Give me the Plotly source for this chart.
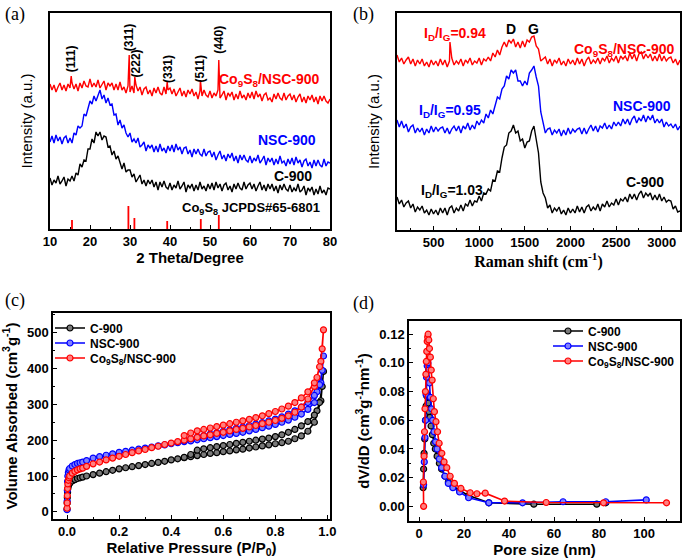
import plotly.graph_objects as go

# ---------------- (a) XRD (sampled every 0.5 degree, 10-80) ----------------
xrd_theta = [10 + 0.5 * i for i in range(141)]
xrd_c900 = [51, 44, 49, 46, 53, 45, 48, 52, 43, 50, 48, 53, 48, 56, 54, 65, 62, 69, 68, 80,
            80, 90, 86, 97, 93, 97, 89, 93, 92, 82, 83, 74, 78, 70, 73, 65, 60, 66, 57, 59,
            59, 52, 55, 47, 51, 54, 45, 49, 43, 49, 45, 49, 42, 47, 39, 47, 42, 48, 42, 40,
            46, 39, 44, 41, 48, 40, 43, 47, 37, 44, 41, 45, 38, 44, 39, 47, 40, 43, 38, 45,
            40, 46, 39, 47, 41, 45, 38, 44, 46, 39, 43, 37, 45, 40, 46, 41, 39, 47, 40, 44,
            46, 40, 45, 38, 43, 47, 39, 44, 38, 45, 40, 45, 38, 43, 36, 44, 39, 45, 40, 38,
            44, 37, 41, 38, 45, 37, 39, 43, 34, 41, 38, 42, 34, 40, 35, 43, 36, 39, 34, 41, 40]
xrd_nsc900 = [87, 93, 86, 94, 88, 92, 85, 91, 93, 86, 91, 86, 96, 94, 103, 101, 103, 115, 113, 121,
              128, 125, 133, 128, 134, 139, 130, 134, 126, 131, 124, 125, 114, 115, 104, 109, 101, 104, 96, 92,
              96, 87, 90, 86, 91, 82, 84, 87, 78, 84, 81, 84, 77, 83, 77, 85, 78, 81, 76, 83,
              78, 84, 77, 85, 79, 82, 75, 81, 82, 75, 79, 72, 80, 75, 80, 75, 73, 80, 73, 77,
              78, 72, 77, 69, 74, 78, 70, 74, 68, 75, 71, 76, 68, 73, 66, 74, 69, 74, 69, 67,
              73, 66, 71, 68, 74, 66, 69, 73, 64, 71, 67, 71, 64, 70, 65, 73, 66, 68, 63, 70,
              65, 71, 64, 72, 66, 69, 62, 68, 70, 63, 67, 61, 69, 63, 69, 64, 62, 70, 63, 67, 66]
xrd_co_base = [145, 139, 144, 137, 142, 146, 139, 144, 138, 145, 141, 146, 140, 145, 138, 146, 141, 148, 143, 142,
               150, 142, 146, 142, 149, 141, 144, 148, 139, 146, 143, 146, 139, 145, 139, 147, 139, 142, 136, 143,
               137, 143, 136, 144, 138, 142, 134, 140, 142, 135, 139, 133, 141, 136, 142, 136, 134, 142, 135, 139,
               141, 135, 140, 133, 138, 141, 133, 138, 132, 139, 135, 140, 133, 137, 130, 138, 133, 139, 134, 132,
               138, 131, 136, 133, 139, 131, 134, 138, 129, 136, 133, 137, 129, 135, 130, 138, 131, 134, 129, 136,
               131, 137, 130, 138, 132, 135, 128, 134, 136, 129, 131, 127, 135, 130, 136, 131, 129, 136, 129, 133,
               135, 129, 134, 127, 132, 135, 127, 132, 126, 133, 129, 134, 127, 132, 125, 133, 128, 133, 128, 126, 130]
xrd_co_peak_theta = [15.3, 29.8, 31.2, 39.3, 47.6, 52.2]
xrd_co_peak_int = [153, 174, 152, 147, 149, 169]
jcpds_theta = [15.5, 29.6, 31.1, 39.3, 47.7, 52.2]
jcpds_int = [9, 23, 11, 8, 10, 14]
hkl_labels = ["(111)", "(311)", "(222)", "(331)", "(511)", "(440)"]
hkl_theta = [15.3, 29.8, 31.6, 39.5, 47.6, 52.2]
hkl_y = [170, 191, 166, 160, 160, 189]

# ---------------- (b) Raman (sampled every 25 cm-1, 100-3200) ----------------
raman_shift = [100 + 25 * i for i in range(125)]
raman_c = [33, 26, 30, 23, 27, 29, 22, 26, 18, 23, 20, 24, 17, 20, 15, 21, 16, 20, 15, 22,
           17, 22, 15, 22, 24, 17, 22, 19, 25, 19, 26, 24, 30, 24, 29, 28, 34, 29, 37, 36,
           41, 39, 50, 49, 59, 58, 72, 83, 85, 97, 99, 105, 97, 99, 89, 91, 82, 88, 89, 99,
           104, 92, 77, 48, 37, 32, 22, 25, 17, 22, 19, 23, 16, 20, 15, 22, 17, 21, 17, 24,
           18, 23, 17, 23, 25, 19, 23, 20, 26, 19, 26, 23, 29, 23, 27, 25, 31, 25, 31, 29,
           33, 28, 36, 31, 36, 30, 36, 39, 32, 37, 34, 37, 30, 35, 30, 36, 29, 33, 28, 30,
           29, 21, 24, 18, 19]
raman_nsc = [110, 103, 109, 102, 106, 98, 103, 105, 97, 102, 98, 102, 95, 101, 97, 104, 98, 103, 99, 102,
             103, 97, 102, 96, 101, 104, 99, 104, 97, 104, 101, 107, 100, 105, 101, 109, 105, 110, 107, 116,
             112, 120, 116, 126, 133, 131, 141, 144, 154, 151, 160, 157, 160, 149, 149, 144, 149, 145, 157, 160,
             164, 153, 144, 118, 109, 97, 101, 102, 95, 100, 97, 101, 94, 100, 95, 102, 96, 101, 98, 101,
             102, 96, 102, 96, 101, 105, 99, 104, 98, 104, 102, 107, 101, 105, 101, 108, 104, 108, 104, 111,
             106, 111, 105, 111, 114, 107, 112, 109, 115, 108, 114, 110, 115, 107, 111, 107, 111, 103, 108, 104,
             106, 102, 106, 100, 104]
raman_co_base = [175, 168, 172, 166, 170, 173, 166, 171, 164, 170, 166, 171, 164, 168, 163, 170, 165, 169, 164, 171,
                 165, 170, 163, 169, 172, 165, 169, 166, 171, 164, 170, 167, 172, 165, 169, 167, 172, 165, 171, 169,
                 173, 169, 177, 173, 180, 175, 183, 188, 183, 190, 187, 191, 183, 188, 182, 189, 183, 190, 188, 193,
                 194, 184, 181, 169, 171, 173, 166, 171, 164, 170, 167, 172, 165, 169, 164, 171, 166, 170, 165, 172,
                 166, 171, 164, 170, 173, 166, 170, 167, 172, 166, 172, 169, 174, 167, 172, 169, 174, 167, 174, 171,
                 174, 169, 177, 171, 176, 169, 176, 178, 171, 176, 172, 176, 169, 174, 169, 176, 169, 174, 169, 172,
                 173, 167, 171, 165, 170]
raman_co_spike_x = [680]
raman_co_spike_i = [188]

# ---------------- (c) N2 isotherms ----------------
p_rel = [0.0, 0.0005, 0.001, 0.002, 0.003, 0.005, 0.0075, 0.01, 0.02, 0.03, 0.04, 0.05, 0.06, 0.075,
         0.1, 0.125, 0.15, 0.175, 0.2, 0.225, 0.25, 0.275, 0.3, 0.325, 0.35, 0.375, 0.4, 0.425, 0.45,
         0.475, 0.5, 0.525, 0.55, 0.575, 0.6, 0.625, 0.65, 0.675, 0.7, 0.725, 0.75, 0.775, 0.8, 0.825,
         0.85, 0.875, 0.9, 0.925, 0.95, 0.975, 0.985,
         0.98, 0.97, 0.96, 0.95, 0.925, 0.9, 0.875, 0.85, 0.825, 0.8, 0.775, 0.75, 0.725, 0.7, 0.675,
         0.65, 0.625, 0.6, 0.575, 0.55, 0.525, 0.5, 0.475, 0.45]
vol_c900 = [8, 25, 40, 55, 65, 72, 77, 80, 86, 90, 93, 95, 97, 100,
            104, 108, 112, 116, 120, 123, 126, 129, 132, 135, 138, 141, 145, 148, 151,
            154, 157, 160, 163, 165, 168, 170, 173, 175, 178, 181, 184, 187, 190, 193,
            197, 204, 212, 225, 250, 310, 392,
            350, 305, 282, 270, 252, 240, 230, 222, 215, 210, 206, 203, 200, 197, 194,
            191, 188, 185, 182, 179, 176, 172, 160, 152]
vol_nsc900 = [6, 30, 60, 85, 100, 110, 117, 121, 128, 132, 135, 137, 139, 143,
              150, 154, 158, 162, 166, 169, 172, 175, 178, 181, 184, 187, 190, 193, 196,
              198, 201, 204, 207, 210, 213, 216, 219, 222, 226, 230, 235, 239, 244, 250,
              256, 264, 273, 286, 305, 360, 435,
              395, 355, 335, 325, 305, 292, 282, 273, 265, 259, 254, 249, 245, 241, 237,
              233, 229, 225, 221, 217, 213, 209, 204, 198]
vol_co = [10, 25, 45, 65, 78, 88, 95, 100, 108, 113, 117, 120, 122, 127,
          134, 139, 145, 150, 155, 160, 165, 170, 174, 179, 183, 188, 192, 196, 200,
          204, 208, 212, 215, 219, 222, 226, 230, 233, 237, 241, 246, 250, 255, 261,
          268, 278, 292, 315, 350, 420, 508,
          455, 405, 375, 360, 335, 318, 305, 295, 287, 280, 274, 268, 263, 258, 254,
          250, 246, 242, 238, 234, 230, 226, 220, 213]

# ---------------- (d) pore size distribution ----------------
pore_c900 = [1.8, 2.0, 2.2, 2.5, 2.8, 3.1, 3.4, 3.7, 4.0, 4.4, 4.8, 5.3, 5.9, 6.5, 7.2, 8.0, 9.0, 10.0,
             11.5, 13.0, 15.0, 18.0, 22.0, 31.0, 51.0, 79.0, 83.0]
dvd_c900 = [0.013, 0.026, 0.037, 0.047, 0.060, 0.070, 0.077, 0.078, 0.072, 0.066, 0.062, 0.056, 0.050,
            0.044, 0.040, 0.035, 0.030, 0.026, 0.021, 0.017, 0.014, 0.011, 0.0075, 0.0025, 0.0015,
            0.0015, 0.0025]
pore_nsc900 = [2.0, 2.3, 2.6, 2.9, 3.1, 3.3, 3.6, 3.9, 4.2, 4.6, 5.0, 5.5, 6.0, 6.6, 7.3, 8.0, 9.0, 10.0,
               11.5, 13.0, 15.0, 18.0, 22.0, 31.0, 46.0, 64.0, 83.0, 101.0]
dvd_nsc900 = [0.015, 0.031, 0.048, 0.060, 0.078, 0.090, 0.098, 0.100, 0.095, 0.086, 0.076, 0.068, 0.060,
              0.052, 0.045, 0.040, 0.033, 0.027, 0.021, 0.016, 0.013, 0.010, 0.006, 0.0025, 0.0025,
              0.0032, 0.0032, 0.0045]
pore_co = [2.0, 1.9, 2.2, 2.4, 2.6, 2.8, 3.0, 3.2, 3.4, 3.6, 3.8, 4.0, 4.3, 4.6, 5.0, 5.4, 5.8, 6.3,
           6.8, 7.5, 8.2, 8.9, 10.1, 11.1, 12.3, 13.8, 15.7, 18.6, 22.7, 25.7, 29.4, 38.0, 56.5, 82.0,
           110.0]
dvd_co = [0.0, 0.017, 0.035, 0.052, 0.068, 0.080, 0.092, 0.101, 0.108, 0.115, 0.118, 0.120, 0.116,
          0.110, 0.104, 0.095, 0.088, 0.075, 0.066, 0.059, 0.052, 0.044, 0.037, 0.031, 0.027, 0.021,
          0.016, 0.0125, 0.0095, 0.0088, 0.0092, 0.0037, 0.0027, 0.0025, 0.0025]

series_names = ["C-900", "NSC-900", "Co<sub>9</sub>S<sub>8</sub>/NSC-900"]

RED, BLUE, BLACK = "#ff0000", "#0000ff", "#000000"
SANS = "Liberation Sans"
SERIF = "Liberation Serif"

# merge sharp peaks into the sampled red curves
co_xy = sorted(zip(xrd_theta + xrd_co_peak_theta, xrd_co_base + xrd_co_peak_int))
xrd_co_theta = [p[0] for p in co_xy]
xrd_co = [p[1] for p in co_xy]
rco_xy = sorted(zip(raman_shift + raman_co_spike_x, raman_co_base + raman_co_spike_i))
raman_co_x = [p[0] for p in rco_xy]
raman_co = [p[1] for p in rco_xy]

fig = go.Figure()

LW = 1.4
for xs, ys, col in [(xrd_theta, xrd_c900, BLACK), (xrd_theta, xrd_nsc900, BLUE), (xrd_co_theta, xrd_co, RED)]:
    fig.add_trace(go.Scatter(x=xs, y=ys, mode="lines", line=dict(color=col, width=LW),
                             xaxis="x", yaxis="y", showlegend=False))
ref_x, ref_y = [], []
for t, h in zip(jcpds_theta, jcpds_int):
    ref_x += [t, t, None]
    ref_y += [0, h, None]
fig.add_trace(go.Scatter(x=ref_x, y=ref_y, mode="lines", line=dict(color=RED, width=1.8),
                         xaxis="x", yaxis="y", showlegend=False))

for xs, ys, col in [(raman_shift, raman_c, BLACK), (raman_shift, raman_nsc, BLUE), (raman_co_x, raman_co, RED)]:
    fig.add_trace(go.Scatter(x=xs, y=ys, mode="lines", line=dict(color=col, width=LW),
                             xaxis="x2", yaxis="y2", showlegend=False))

def mk(fill, edge):
    return dict(symbol="circle", size=6, color=fill, line=dict(color=edge, width=1.2))

colors = [(BLACK, "#7a7a7a"), (BLUE, "#8080ff"), (RED, "#ff8080")]
for i, (ys, (col, fill)) in enumerate(zip([vol_c900, vol_nsc900, vol_co], colors)):
    fig.add_trace(go.Scatter(x=p_rel, y=ys, mode="lines+markers", name=series_names[i],
                             line=dict(color=col, width=1.6), marker=mk(fill, col),
                             xaxis="x3", yaxis="y3", legend="legend" if i == 0 else f"legend{i + 1}"))
for i, (xs, ys, (col, fill)) in enumerate(zip([pore_c900, pore_nsc900, pore_co],
                                                [dvd_c900, dvd_nsc900, dvd_co], colors)):
    fig.add_trace(go.Scatter(x=xs, y=ys, mode="lines+markers", name=series_names[i],
                             line=dict(color=col, width=1.6), marker=mk(fill, col),
                             xaxis="x4", yaxis="y4", legend=f"legend{i + 4}"))

W, H = 685, 559
def dx(a, b):
    return [a / W, b / W]
def dy(top, bot):
    return [1 - bot / H, 1 - top / H]

tickf = dict(family=SANS, size=13, color="black", weight="bold")
titf = dict(family=SANS, size=15, color="black", weight="bold")
base = dict(showline=True, linecolor="black", linewidth=1.5, mirror=True, showgrid=False,
            zeroline=False, ticks="inside", ticklen=4, tickwidth=1.3, tickcolor="black",
            tickfont=tickf, automargin=False)

fig.update_layout(
    width=W, height=H, margin=dict(l=0, r=0, t=0, b=0),
    paper_bgcolor="white", plot_bgcolor="white",
    xaxis=dict(base, domain=dx(50, 330), range=[10, 80], dtick=10, tick0=10,
               minor=dict(ticks="inside", ticklen=2, dtick=5, tickcolor="black"),
               title=dict(text="2 Theta/Degree", font=titf, standoff=4), anchor="y"),
    yaxis=dict(base, domain=dy(13, 229), range=[0, 216], ticks="", showticklabels=False,
               title=dict(text="Intensity (a.u.)", font=dict(family=SANS, size=15, color="black"), standoff=12),
               anchor="x"),
    xaxis2=dict(base, domain=dx(397, 680), range=[100, 3200], tickvals=[500, 1000, 1500, 2000, 2500, 3000],
                minor=dict(ticks="inside", ticklen=2, tickvals=[250, 750, 1250, 1750, 2250, 2750], tickcolor="black"),
                title=dict(text="Raman shift (cm<sup>-1</sup>)", font=dict(family=SERIF, size=16, color="black", weight="bold"), standoff=3),
                anchor="y2"),
    yaxis2=dict(base, domain=dy(13, 230), range=[0, 217], ticks="", showticklabels=False,
                title=dict(text="Intensity (a.u.)", font=dict(family=SANS, size=15, color="black"), standoff=12),
                anchor="x2"),
    xaxis3=dict(base, domain=dx(53, 330), range=[-0.054, 1.01], dtick=0.2, tick0=0, tickformat=".1f",
                minor=dict(ticks="inside", ticklen=2, dtick=0.1, tickcolor="black"),
                title=dict(text="Relative Pressure (P/P<sub>0</sub>)", font=titf, standoff=3), anchor="y3"),
    yaxis3=dict(base, domain=dy(313, 519), range=[-20, 555], dtick=100, tick0=0,
                minor=dict(ticks="inside", ticklen=2, dtick=50, tickcolor="black"),
                title=dict(text="Volume Absorbed (cm<sup>3</sup>g<sup>-1</sup>)", font=titf, standoff=6),
                anchor="x3"),
    xaxis4=dict(base, domain=dx(409, 680), range=[-4.5, 116], dtick=20, tick0=0,
                minor=dict(ticks="inside", ticklen=2, dtick=10, tickcolor="black"),
                title=dict(text="Pore size (nm)", font=titf, standoff=3), anchor="y4"),
    yaxis4=dict(base, domain=dy(321, 521), range=[-0.0102, 0.1292], dtick=0.02, tick0=0, tickformat=".2f",
                minor=dict(ticks="inside", ticklen=2, dtick=0.01, tickcolor="black"),
                title=dict(text="dV/dD (cm<sup>3</sup>g<sup>-1</sup>nm<sup>-1</sup>)", font=titf, standoff=6),
                anchor="x4"),
)

legfont = dict(family=SANS, size=12, color="black", weight="bold")
leg_pos = [(50, 328), (50, 343), (50, 358), (548, 331), (548, 346), (548, 361)]
for k, (lx, ly) in enumerate(leg_pos):
    key = "legend" if k == 0 else f"legend{k + 1}"
    fig.update_layout({key: dict(x=lx / W, y=1 - ly / H, xanchor="left", yanchor="middle",
                                 bgcolor="rgba(0,0,0,0)", borderwidth=0, font=legfont,
                                 itemwidth=30, tracegroupgap=0)})

ann = []
for lab, px, py in [("(a)", 3, 2), ("(b)", 351, 2), ("(c)", 3, 288), ("(d)", 351, 291)]:
    ann.append(dict(text=lab, xref="paper", yref="paper", x=px / W, y=1 - py / H, xanchor="left",
                    yanchor="top", showarrow=False, font=dict(family=SERIF, size=18, color="black")))
for lab, t, yy in zip(hkl_labels, hkl_theta, hkl_y):
    ann.append(dict(text=lab, x=t, y=yy, xref="x", yref="y", textangle=-90, showarrow=False,
                    font=dict(family=SANS, size=12, color="black", weight="bold")))

def afont(c, s=14):
    return dict(family=SANS, size=s, color=c, weight="bold")

ann += [
    dict(text="Co<sub>9</sub>S<sub>8</sub>/NSC-900", x=78, y=149, xref="x", yref="y", xanchor="right",
         showarrow=False, font=afont(RED)),
    dict(text="NSC-900", x=77, y=89, xref="x", yref="y", xanchor="right", showarrow=False, font=afont(BLUE)),
    dict(text="C-900", x=76, y=53, xref="x", yref="y", xanchor="right", showarrow=False, font=afont(BLACK)),
    dict(text="Co<sub>9</sub>S<sub>8</sub> JCPDS#65-6801", x=78, y=21, xref="x", yref="y", xanchor="right",
         showarrow=False, font=afont(BLACK, 13)),
    dict(text="I<sub>D</sub>/I<sub>G</sub>=0.94", x=735, y=196, xref="x2", yref="y2", showarrow=False, font=afont(RED)),
    dict(text="D", x=1345, y=201, xref="x2", yref="y2", showarrow=False, font=afont(BLACK)),
    dict(text="G", x=1590, y=201, xref="x2", yref="y2", showarrow=False, font=afont(BLACK)),
    dict(text="Co<sub>9</sub>S<sub>8</sub>/NSC-900", x=3165, y=180, xref="x2", yref="y2", xanchor="right",
         showarrow=False, font=afont(RED)),
    dict(text="I<sub>D</sub>/I<sub>G</sub>=0.95", x=680, y=119, xref="x2", yref="y2", showarrow=False, font=afont(BLUE)),
    dict(text="NSC-900", x=3125, y=124, xref="x2", yref="y2", xanchor="right", showarrow=False, font=afont(BLUE)),
    dict(text="I<sub>D</sub>/I<sub>G</sub>=1.03", x=700, y=39, xref="x2", yref="y2", showarrow=False, font=afont(BLACK)),
    dict(text="C-900", x=2820, y=48, xref="x2", yref="y2", showarrow=False, font=afont(BLACK)),
]
fig.update_layout(annotations=ann)

fig.write_html("out.html", config={"displayModeBar": False},
               post_script="document.body.style.margin='0px';document.body.style.overflow='hidden';")
